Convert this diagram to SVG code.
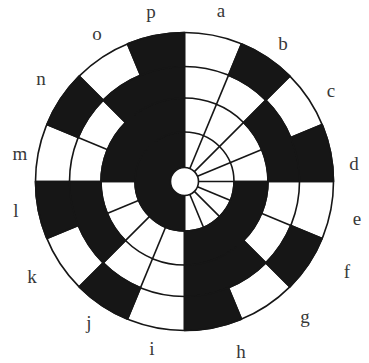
<svg xmlns="http://www.w3.org/2000/svg" width="369" height="363" viewBox="0 0 369 363">
  <style>
    .blk { fill: #161616; stroke: #161616; stroke-width: 1.6; stroke-linejoin: round; }
    .grid { fill: none; stroke: #161616; stroke-width: 1.6; }
    .lbl { font-family: "Liberation Serif", "Times New Roman", serif; font-size: 19px; fill: #383838; text-anchor: middle; }
  </style>
  <defs>
    <path id="c4" d="M241.52,43.84 A149,149 0 0 1 289.86,76.14 L265.82,100.18 A115,115 0 0 0 228.51,75.25 Z"/>
    <path id="c3" d="M265.82,100.18 A115,115 0 0 1 299.5,181.5 L268,181.5 A83.5,83.5 0 0 0 243.54,122.46 Z"/>
    <path id="c2" d="M268,181.5 A83.5,83.5 0 0 1 184.5,265 L184.5,231 A49.5,49.5 0 0 0 234,181.5 Z"/>
    <line id="sp" x1="184.5" y1="167.5" x2="184.5" y2="32.5"/>
  </defs>
  <rect width="369" height="363" fill="#fff"/>
  <circle cx="184.5" cy="181.5" r="149" fill="#fff"/>
  <g id="grid" class="grid">
    <circle cx="184.5" cy="181.5" r="49.5"/>
    <circle cx="184.5" cy="181.5" r="83.5"/>
    <circle cx="184.5" cy="181.5" r="115"/>
    <use href="#sp"/>
    <use href="#sp" transform="rotate(22.5 184.5 181.5)"/>
    <use href="#sp" transform="rotate(45 184.5 181.5)"/>
    <use href="#sp" transform="rotate(67.5 184.5 181.5)"/>
    <use href="#sp" transform="rotate(90 184.5 181.5)"/>
    <use href="#sp" transform="rotate(112.5 184.5 181.5)"/>
    <use href="#sp" transform="rotate(135 184.5 181.5)"/>
    <use href="#sp" transform="rotate(157.5 184.5 181.5)"/>
    <use href="#sp" transform="rotate(180 184.5 181.5)"/>
    <use href="#sp" transform="rotate(202.5 184.5 181.5)"/>
    <use href="#sp" transform="rotate(225 184.5 181.5)"/>
    <use href="#sp" transform="rotate(247.5 184.5 181.5)"/>
    <use href="#sp" transform="rotate(270 184.5 181.5)"/>
    <use href="#sp" transform="rotate(292.5 184.5 181.5)"/>
    <use href="#sp" transform="rotate(315 184.5 181.5)"/>
    <use href="#sp" transform="rotate(337.5 184.5 181.5)"/>
  </g>
  <g id="ring1" class="blk">
    <path d="M184.5,231 A49.5,49.5 0 0 1 184.5,132 Z"/>
  </g>
  <g id="ring2" class="blk">
    <use href="#c2"/>
    <use href="#c2" transform="rotate(180 184.5 181.5)"/>
  </g>
  <g id="ring3" class="blk">
    <use href="#c3"/>
    <use href="#c3" transform="rotate(90 184.5 181.5)"/>
    <use href="#c3" transform="rotate(180 184.5 181.5)"/>
    <use href="#c3" transform="rotate(270 184.5 181.5)"/>
  </g>
  <g id="ring4" class="blk">
    <use href="#c4"/>
    <use href="#c4" transform="rotate(45 184.5 181.5)"/>
    <use href="#c4" transform="rotate(90 184.5 181.5)"/>
    <use href="#c4" transform="rotate(135 184.5 181.5)"/>
    <use href="#c4" transform="rotate(180 184.5 181.5)"/>
    <use href="#c4" transform="rotate(225 184.5 181.5)"/>
    <use href="#c4" transform="rotate(270 184.5 181.5)"/>
    <use href="#c4" transform="rotate(315 184.5 181.5)"/>
  </g>
  <g id="rims" class="grid">
    <circle cx="184.5" cy="181.5" r="149"/>
    <circle cx="184.5" cy="181.5" r="14" fill="#fff"/>
  </g>
  <g id="labels" class="lbl">
    <text x="221" y="17">a</text>
    <text x="283" y="50">b</text>
    <text x="331" y="97">c</text>
    <text x="354" y="170">d</text>
    <text x="357" y="225">e</text>
    <text x="347" y="278">f</text>
    <text x="305" y="323">g</text>
    <text x="241" y="358">h</text>
    <text x="152" y="355">i</text>
    <text x="89" y="329">j</text>
    <text x="32" y="283">k</text>
    <text x="16" y="217">l</text>
    <text x="20" y="160">m</text>
    <text x="41" y="85">n</text>
    <text x="97" y="40">o</text>
    <text x="151" y="18">p</text>
  </g>
</svg>
